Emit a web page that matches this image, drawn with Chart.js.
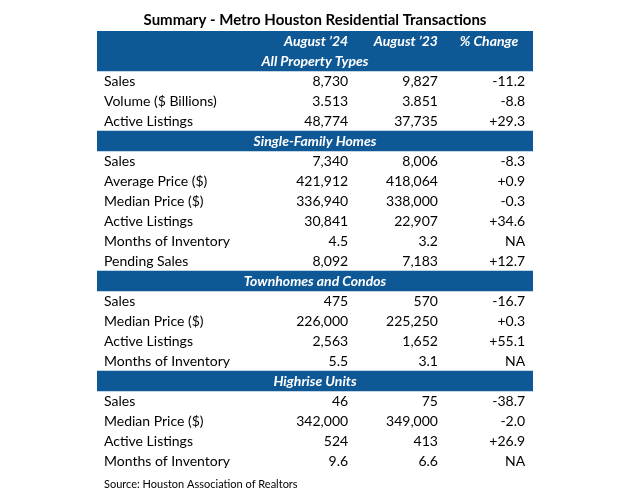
<!DOCTYPE html>
<html>
<head>
<meta charset="utf-8">
<script src="https://cdn.jsdelivr.net/npm/chart.js@4.4.1/dist/chart.umd.min.js"></script>
<style>
  body { margin: 0; background: #fff; }
  canvas { display: block; }
</style>
</head>
<body>
<canvas id="summaryChart" width="644" height="500"></canvas>
<script>
const titleText = 'Summary - Metro Houston Residential Transactions';
const sourceText = 'Source: Houston Association of Realtors';
const columnHeaders = ['August \u201924', 'August \u201923', '% Change'];

const sectionNames = ['All Property Types', 'Single-Family Homes', 'Townhomes and Condos', 'Highrise Units'];
const sectionSizes = [3, 6, 4, 4];

const metricLabels = [
    'Sales', 'Volume ($ Billions)', 'Active Listings',
    'Sales', 'Average Price ($)', 'Median Price ($)', 'Active Listings', 'Months of Inventory', 'Pending Sales',
    'Sales', 'Median Price ($)', 'Active Listings', 'Months of Inventory',
    'Sales', 'Median Price ($)', 'Active Listings', 'Months of Inventory'
];
const aug24 = [
    8730, 3.513, 48774,
    7340, 421912, 336940, 30841, 4.5, 8092,
    475, 226000, 2563, 5.5,
    46, 342000, 524, 9.6
];
const aug23 = [
    9827, 3.851, 37735,
    8006, 418064, 338000, 22907, 3.2, 7183,
    570, 225250, 1652, 3.1,
    75, 349000, 413, 6.6
];
const pctChange = [
    -11.2, -8.8, 29.3,
    -8.3, 0.9, -0.3, 34.6, null, 12.7,
    -16.7, 0.3, 55.1, null,
    -38.7, -2.0, 26.9, null
];

const blue = '#0f5896';
const bodyFont = '14px Lato';
const bandFont = 'italic bold 14px Lato';

// build the table rows: header row, then per section a band row and its metrics
const rows = [{ kind: 'header' }];
let k = 0;
sectionNames.forEach(function (name, s) {
    rows.push({ kind: 'section', text: name });
    for (let j = 0; j < sectionSizes[s]; j++) {
        rows.push({ kind: 'data', idx: k });
        k++;
    }
});

function fmtNum(v) {
    return v.toLocaleString('en-US', { maximumFractionDigits: 3 });
}
function fmtPct(v) {
    if (v === null) return 'NA';
    return (v > 0 ? '+' : '') + v.toFixed(1);
}

// column anchors in x-scale units (0 = table left, 1 = table right)
const labelLeft = 0.016;
const colRight = [0.576, 0.782, 0.982];
const pctHeaderCenter = 0.899;

const tableText = {
    id: 'tableText',
    afterDatasetsDraw(chart) {
        const c = chart.ctx;
        const xs = chart.scales.x;
        const ys = chart.scales.y;
        const area = chart.chartArea;
        c.save();
        c.textBaseline = 'middle';

        // title
        c.fillStyle = '#000';
        c.font = 'bold 15px Lato';
        c.textAlign = 'center';
        c.fillText(titleText, (area.left + area.right) / 2, area.top - 11);

        rows.forEach(function (r, i) {
            const y = ys.getPixelForValue(i);
            if (r.kind === 'header') {
                c.fillStyle = '#fff';
                c.font = bandFont;
                c.textAlign = 'right';
                c.fillText(columnHeaders[0], xs.getPixelForValue(colRight[0]), y);
                c.fillText(columnHeaders[1], xs.getPixelForValue(colRight[1]), y);
                c.textAlign = 'center';
                c.fillText(columnHeaders[2], xs.getPixelForValue(pctHeaderCenter), y);
            } else if (r.kind === 'section') {
                c.fillStyle = '#fff';
                c.font = bandFont;
                c.textAlign = 'center';
                c.fillText(r.text, (area.left + area.right) / 2, y);
            } else {
                c.fillStyle = '#000';
                c.font = bodyFont;
                c.textAlign = 'left';
                c.fillText(metricLabels[r.idx], xs.getPixelForValue(labelLeft), y);
                c.textAlign = 'right';
                c.fillText(fmtNum(aug24[r.idx]), xs.getPixelForValue(colRight[0]), y);
                c.fillText(fmtNum(aug23[r.idx]), xs.getPixelForValue(colRight[1]), y);
                c.fillText(fmtPct(pctChange[r.idx]), xs.getPixelForValue(colRight[2]), y);
            }
        });

        // source note
        c.fillStyle = '#000';
        c.font = '11px Lato';
        c.textAlign = 'left';
        c.fillText(sourceText, xs.getPixelForValue(labelLeft), area.bottom + 13);
        c.restore();
    }
};

const ctx = document.getElementById('summaryChart').getContext('2d');
new Chart(ctx, {
    type: 'bar',
    data: {
        labels: rows.map(function (r, i) { return 'r' + i; }),
        datasets: [{
            data: rows.map(function (r) { return r.kind === 'data' ? null : [0, 1]; }),
            backgroundColor: blue,
            borderWidth: 0,
            barPercentage: 1,
            categoryPercentage: 1
        }]
    },
    options: {
        indexAxis: 'y',
        responsive: false,
        animation: false,
        layout: { padding: { left: 97, right: 111, top: 31, bottom: 29 } },
        scales: {
            x: { display: false, min: 0, max: 1 },
            y: { display: false }
        },
        plugins: {
            legend: { display: false },
            tooltip: { enabled: false }
        }
    },
    plugins: [tableText]
});
</script>
</body>
</html>
